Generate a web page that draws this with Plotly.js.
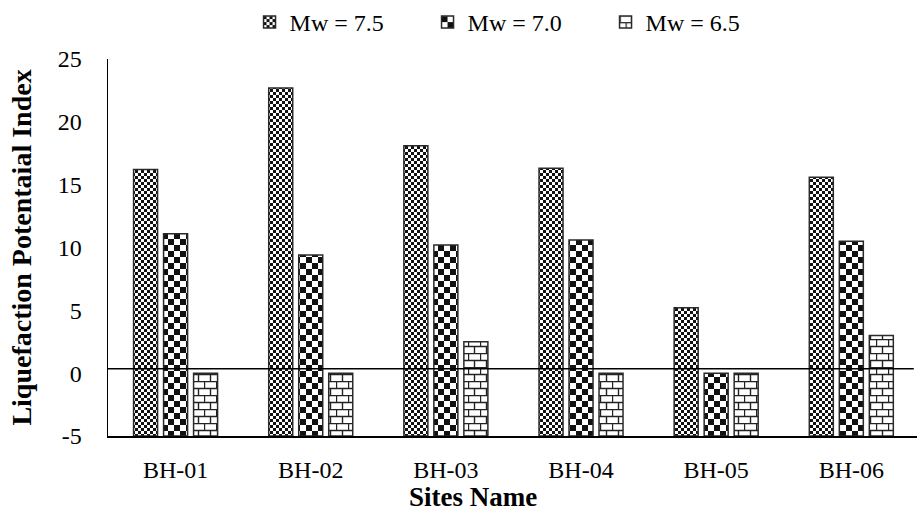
<!DOCTYPE html>
<html>
<head>
<meta charset="utf-8">
<script src="https://cdn.plot.ly/plotly-3.0.1.min.js"></script>
<style>html,body{margin:0;padding:0;background:#fff;}#chart{width:917px;height:513px;}</style>
</head>
<body>
<div id="chart"></div>
<script>
// ---- data ----
var sites = ['BH-01', 'BH-02', 'BH-03', 'BH-04', 'BH-05', 'BH-06'];
var seriesNames = ['Mw = 7.5', 'Mw = 7.0', 'Mw = 6.5'];
var mw75 = [16.2, 22.7, 18.1, 16.3, 5.2, 15.6];
var mw70 = [11.1, 9.4, 10.2, 10.6, 0, 10.5];
var mw65 = [0, 0, 2.5, 0, 0, 3.0];
var yTicks = [-5, 0, 5, 10, 15, 20, 25];
var axisMin = -5;          // bars rise from the bottom of the axis
var refLineValue = 0.35;   // horizontal reference line near zero
var xTitle = 'Sites Name';
var yTitle = 'Liquefaction Potentaial Index';

var FONT = 'Liberation Serif, Times New Roman, serif';
var fallbackShapes = ['x', '+', '-'];
var seriesValues = [mw75, mw70, mw65];

var traces = seriesValues.map(function (vals, i) {
  return {
    type: 'bar',
    name: seriesNames[i],
    x: sites,
    y: vals.map(function (v) { return v - axisMin; }),
    base: axisMin,
    marker: {
      color: '#ffffff',
      line: { color: '#2a2a2a', width: 1.5 },
      pattern: { shape: fallbackShapes[i], fgcolor: '#000', bgcolor: '#fff', size: 5, solidity: 0.4 }
    },
    hoverinfo: 'skip'
  };
});

var layout = {
  width: 917,
  height: 513,
  margin: { l: 108, r: 0, t: 57, b: 77 },
  paper_bgcolor: '#fff',
  plot_bgcolor: 'rgba(0,0,0,0)',
  font: { family: FONT, color: '#000', size: 24 },
  barmode: 'group',
  bargap: 0.334,
  bargroupgap: 0.2,
  showlegend: true,
  legend: {
    orientation: 'h',
    x: 0.505, xanchor: 'center',
    y: 1.158, yanchor: 'top',
    font: { family: FONT, size: 24, color: '#000' },
    entrywidth: 133,
    traceorder: 'normal',
    bgcolor: 'rgba(0,0,0,0)'
  },
  xaxis: {
    type: 'category',
    range: [-0.5, 5.486],
    showline: true, linecolor: '#000', linewidth: 1.5,
    showgrid: false, zeroline: false, ticks: '',
    ticklabelstandoff: 12,
    tickfont: { family: FONT, size: 24, color: '#000' }
  },
  yaxis: {
    range: [-5, 25],
    tickvals: yTicks,
    ticktext: yTicks.map(String),
    showline: true, linecolor: '#000', linewidth: 1.5,
    showgrid: false, zeroline: false, ticks: '',
    ticklabelstandoff: 20,
    tickfont: { family: FONT, size: 24, color: '#000' },
    title: { text: yTitle, font: { family: FONT, size: 28, color: '#000', weight: 'bold' }, standoff: 18 }
  },
  annotations: [{
    text: xTitle, xref: 'paper', yref: 'paper',
    x: 0.451, y: -0.161, xanchor: 'center', yanchor: 'middle',
    showarrow: false,
    font: { family: FONT, size: 27, color: '#000', weight: 'bold' }
  }],
  shapes: [{
    type: 'line', xref: 'paper', yref: 'y',
    x0: 0, x1: 0.996, y0: refLineValue, y1: refLineValue,
    line: { color: '#000', width: 1.3 }
  }]
};

function svgEl(tag, attrs) {
  var el = document.createElementNS('http://www.w3.org/2000/svg', tag);
  for (var k in attrs) el.setAttribute(k, attrs[k]);
  return el;
}

function addPatterns(gd) {
  var svg = gd.querySelector('.main-svg');
  var defs = svg.querySelector('defs') || svg.insertBefore(svgEl('defs', {}), svg.firstChild);
  // fine checkerboard
  var p1 = svgEl('pattern', { id: 'pat-fine', patternUnits: 'userSpaceOnUse', width: 6, height: 6 });
  p1.appendChild(svgEl('rect', { x: 0, y: 0, width: 6, height: 6, fill: '#fff' }));
  p1.appendChild(svgEl('rect', { x: 0, y: 0, width: 3, height: 3, fill: '#111' }));
  p1.appendChild(svgEl('rect', { x: 3, y: 3, width: 3, height: 3, fill: '#111' }));
  // coarse checkerboard
  var p2 = svgEl('pattern', { id: 'pat-coarse', patternUnits: 'userSpaceOnUse', width: 12, height: 12 });
  p2.appendChild(svgEl('rect', { x: 0, y: 0, width: 12, height: 12, fill: '#fff' }));
  p2.appendChild(svgEl('rect', { x: 0, y: 0, width: 6, height: 6, fill: '#111' }));
  p2.appendChild(svgEl('rect', { x: 6, y: 6, width: 6, height: 6, fill: '#111' }));
  // horizontal brick
  var p3 = svgEl('pattern', { id: 'pat-brick', patternUnits: 'userSpaceOnUse', width: 12, height: 14 });
  p3.appendChild(svgEl('rect', { x: 0, y: 0, width: 12, height: 14, fill: '#fff' }));
  p3.appendChild(svgEl('path', { d: 'M0,0.5H12M0,7.5H12M0.5,0V7M6.5,7V14', stroke: '#222', 'stroke-width': 1.4, fill: 'none' }));
  defs.appendChild(p1); defs.appendChild(p2); defs.appendChild(p3);
  var ids = ['pat-fine', 'pat-coarse', 'pat-brick'];

  var barTraces = gd.querySelectorAll('.barlayer .trace');
  barTraces.forEach(function (t, i) {
    t.querySelectorAll('path').forEach(function (p) {
      p.style.fill = 'url(#' + ids[i] + ')';
      p.style.fillOpacity = 1;
    });
  });
  var legTraces = gd.querySelectorAll('.legend .traces');
  legTraces.forEach(function (t, i) {
    t.querySelectorAll('.legendpoints path').forEach(function (p) {
      p.style.fill = 'url(#' + ids[i] + ')';
      p.style.fillOpacity = 1;
    });
  });
}

Plotly.newPlot('chart', traces, layout, { staticPlot: true, displayModeBar: false }).then(addPatterns);
</script>
</body>
</html>
